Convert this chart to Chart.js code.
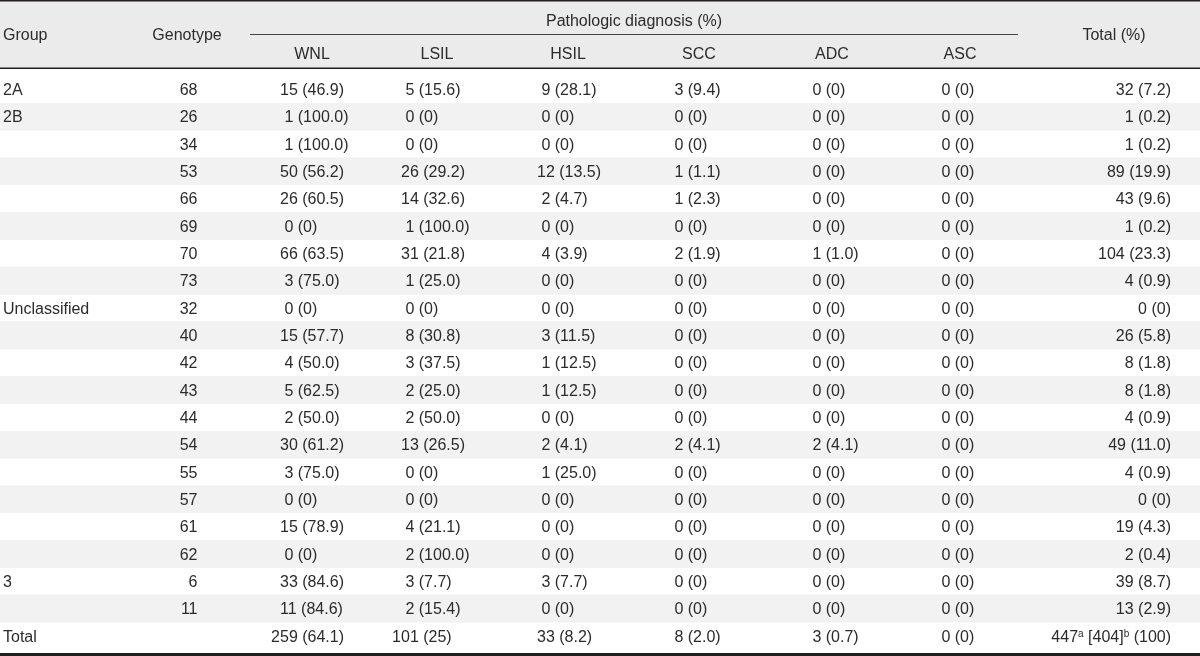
<!DOCTYPE html>
<html>
<head>
<meta charset="utf-8">
<title>Pathologic diagnosis by HPV genotype</title>
<script src="https://cdn.jsdelivr.net/npm/chart.js@4.4.1/dist/chart.umd.min.js"></script>
<style>
    html, body { margin: 0; padding: 0; background: #fff; }
    #wrap { position: relative; width: 1200px; height: 656px; }
</style>
</head>
<body>
<div id="wrap"><canvas id="table"></canvas></div>
<script>
// Row labels
const groups    = ['2A', '2B', '', '', '', '', '', '', 'Unclassified', '', '', '', '', '', '', '', '', '', '3', '', 'Total'];
const genotypes = ['68', '26', '34', '53', '66', '69', '70', '73', '32', '40', '42', '43', '44', '54', '55', '57', '61', '62', '6', '11', ''];

// Column headers
const diagnoses = ['WNL', 'LSIL', 'HSIL', 'SCC', 'ADC', 'ASC'];

// Counts and percentages per diagnosis (last entry = Total row)
const wnlN    = [15, 1, 1, 50, 26, 0, 66, 3, 0, 15, 4, 5, 2, 30, 3, 0, 15, 0, 33, 11, 259];
const wnlPct  = ['46.9', '100.0', '100.0', '56.2', '60.5', '0', '63.5', '75.0', '0', '57.7', '50.0', '62.5', '50.0', '61.2', '75.0', '0', '78.9', '0', '84.6', '84.6', '64.1'];
const lsilN   = [5, 0, 0, 26, 14, 1, 31, 1, 0, 8, 3, 2, 2, 13, 0, 0, 4, 2, 3, 2, 101];
const lsilPct = ['15.6', '0', '0', '29.2', '32.6', '100.0', '21.8', '25.0', '0', '30.8', '37.5', '25.0', '50.0', '26.5', '0', '0', '21.1', '100.0', '7.7', '15.4', '25'];
const hsilN   = [9, 0, 0, 12, 2, 0, 4, 0, 0, 3, 1, 1, 0, 2, 1, 0, 0, 0, 3, 0, 33];
const hsilPct = ['28.1', '0', '0', '13.5', '4.7', '0', '3.9', '0', '0', '11.5', '12.5', '12.5', '0', '4.1', '25.0', '0', '0', '0', '7.7', '0', '8.2'];
const sccN    = [3, 0, 0, 1, 1, 0, 2, 0, 0, 0, 0, 0, 0, 2, 0, 0, 0, 0, 0, 0, 8];
const sccPct  = ['9.4', '0', '0', '1.1', '2.3', '0', '1.9', '0', '0', '0', '0', '0', '0', '4.1', '0', '0', '0', '0', '0', '0', '2.0'];
const adcN    = [0, 0, 0, 0, 0, 0, 1, 0, 0, 0, 0, 0, 0, 2, 0, 0, 0, 0, 0, 0, 3];
const adcPct  = ['0', '0', '0', '0', '0', '0', '1.0', '0', '0', '0', '0', '0', '0', '4.1', '0', '0', '0', '0', '0', '0', '0.7'];
const ascN    = [0, 0, 0, 0, 0, 0, 0, 0, 0, 0, 0, 0, 0, 0, 0, 0, 0, 0, 0, 0, 0];
const ascPct  = ['0', '0', '0', '0', '0', '0', '0', '0', '0', '0', '0', '0', '0', '0', '0', '0', '0', '0', '0', '0', '0'];

// Row totals
const totalN   = [32, 1, 1, 89, 43, 1, 104, 4, 0, 26, 8, 8, 4, 49, 4, 0, 19, 2, 39, 13, 447];
const totalPct = ['7.2', '0.2', '0.2', '19.9', '9.6', '0.2', '23.3', '0.9', '0', '5.8', '1.8', '1.8', '0.9', '11.0', '0.9', '0', '4.3', '0.4', '8.7', '2.9', '100'];
const totalAlt = 404;          // bracketed figure in the grand total
const totalNotes = ['a', 'b']; // superscript footnote markers

// Theme
const colors = {
    text: '#2b2b2b',
    rule: '#231f20',
    header: '#ebebeb',
    stripe: '#f2f2f2'
};
const FONT = '"Liberation Sans", Arial, sans-serif';
const CAP = 5.7; // half cap height at 16px, to centre text on a row

// Column layout (x in scale units = px)
const columns = [
    { n: wnlN,  pct: wnlPct,  left: 280, head: 312 },
    { n: lsilN, pct: lsilPct, left: 401, head: 437 },
    { n: hsilN, pct: hsilPct, left: 537, head: 568 },
    { n: sccN,  pct: sccPct,  left: 670, head: 699 },
    { n: adcN,  pct: adcPct,  left: 808, head: 832 },
    { n: ascN,  pct: ascPct,  left: 937, head: 960 }
];

/**
 * Draw text runs (plain / superscript) right-aligned at x
 */
function drawRunsRight(ctx, runs, x, y) {
    const widths = runs.map(r => {
        ctx.font = (r.sup ? '10px ' : '16px ') + FONT;
        return ctx.measureText(r.t).width;
    });
    let cx = x - widths.reduce((a, b) => a + b, 0);
    runs.forEach((r, i) => {
        ctx.font = (r.sup ? '10px ' : '16px ') + FONT;
        ctx.fillText(r.t, cx, r.sup ? y - 5 : y);
        cx += widths[i];
    });
    ctx.font = '16px ' + FONT;
}

const tablePlugin = {
    id: 'tableText',
    beforeDraw(chart) {
        const ctx = chart.ctx;
        ctx.save();
        ctx.fillStyle = '#fff';
        ctx.fillRect(0, 0, chart.width, chart.height);
        ctx.fillStyle = colors.header;
        ctx.fillRect(0, 0, chart.width, 68);
        ctx.restore();
    },
    afterDraw(chart) {
        const ctx = chart.ctx;
        const xs = chart.scales.x;
        const ys = chart.scales.y;
        const X = v => xs.getPixelForValue(v);

        ctx.save();
        // Rules
        ctx.fillStyle = colors.rule;
        ctx.fillRect(0, 0, chart.width, 1.5);
        ctx.fillRect(0, 67.5, chart.width, 1.5);
        ctx.fillRect(0, 653, chart.width, 3);
        ctx.fillStyle = '#444';
        ctx.fillRect(X(250), 34, X(1018) - X(250), 1);

        // Header text
        ctx.fillStyle = colors.text;
        ctx.font = '16px ' + FONT;
        ctx.textBaseline = 'alphabetic';
        ctx.textAlign = 'center';
        ctx.fillText('Pathologic diagnosis (%)', X(634), 26);
        ctx.textAlign = 'left';
        ctx.fillText('Group', X(3), 39.5);
        ctx.textAlign = 'center';
        ctx.fillText('Genotype', X(187), 39.5);
        ctx.fillText('Total (%)', X(1114), 39.5);
        diagnoses.forEach((d, j) => ctx.fillText(d, X(columns[j].head), 59.3));

        // Body
        const digit = ctx.measureText('0').width;
        genotypes.forEach((g, i) => {
            const y = ys.getPixelForValue(i) + CAP;
            ctx.textAlign = 'left';
            ctx.fillText(groups[i], X(3), y);
            ctx.textAlign = 'right';
            ctx.fillText(g, X(197.5), y);

            ctx.textAlign = 'left';
            columns.forEach(col => {
                const n = col.n[i];
                const len = String(n).length;
                const txt = (len === 1 ? ' ' : '') + n + ' (' + col.pct[i] + ')';
                ctx.fillText(txt, X(col.left) - Math.max(0, len - 2) * digit, y);
            });

            ctx.textAlign = 'left';
            if (i === genotypes.length - 1) {
                drawRunsRight(ctx, [
                    { t: String(totalN[i]) },
                    { t: totalNotes[0], sup: true },
                    { t: ' [' + totalAlt + ']' },
                    { t: totalNotes[1], sup: true },
                    { t: ' (' + totalPct[i] + ')' }
                ], X(1171), y);
            } else {
                ctx.textAlign = 'right';
                ctx.fillText(totalN[i] + ' (' + totalPct[i] + ')', X(1171), y);
            }
        });
        ctx.restore();
    }
};

// Zebra stripes on every second row
const stripes = genotypes.map((g, i) => (i % 2 === 1 ? [0, 1200] : null));

new Chart(document.getElementById('table'), {
    type: 'bar',
    data: {
        labels: genotypes.map((g, i) => groups[i] + ' ' + g),
        datasets: [{
            data: stripes,
            backgroundColor: colors.stripe,
            borderWidth: 0,
            barPercentage: 1,
            categoryPercentage: 1
        }]
    },
    options: {
        indexAxis: 'y',
        responsive: true,
        maintainAspectRatio: false,
        animation: false,
        events: [],
        layout: {
            padding: { top: 75.7, bottom: 6.4, left: 0, right: 0 }
        },
        plugins: {
            legend: { display: false },
            tooltip: { enabled: false }
        },
        scales: {
            x: { type: 'linear', min: 0, max: 1200, display: false },
            y: { type: 'category', display: false, offset: true, grid: { display: false } }
        }
    },
    plugins: [tablePlugin]
});
</script>
</body>
</html>
